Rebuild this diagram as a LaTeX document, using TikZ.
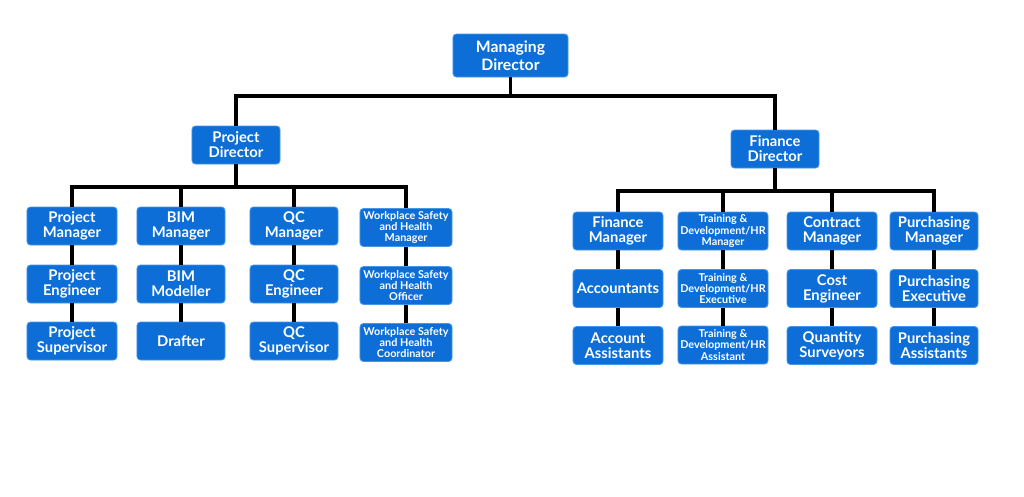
\documentclass[tikz,border=0pt]{standalone}
\usepackage{fontspec}
\setmainfont{Lato}[UprightFont=* Bold]
\usepackage{tikz}
\usetikzlibrary{positioning, calc}
\definecolor{boxblue}{RGB}{12,110,214}
\definecolor{edgeblue}{RGB}{70,150,236}

\begin{document}
\begin{tikzpicture}[x=0.025cm, y=-0.025cm,
  role/.style={fill=boxblue, draw=edgeblue, line width=0.6pt, rounded corners=2.5pt,
    text=white, align=center, font=\fontsize{10.5}{10.6}\selectfont,
    minimum width=2.25cm, minimum height=0.95cm, inner sep=1pt},
  small/.style={role, font=\fontsize{7.7}{7.9}\selectfont, minimum width=2.3cm},
  conn/.style={line width=2.8pt, black}]
  \useasboundingbox (0,0) rectangle (1024,496);
  % top level
  \node[role, minimum width=2.875cm, minimum height=1.075cm,
    font=\fontsize{11.2}{12.6}\selectfont] (md) at (510.5,55.5) {Managing\\Director};
  \node[role, minimum width=2.2cm] (pd) at (236,145) {Project\\Director};
  \node[role, minimum width=2.2cm] (fd) at (775,149) {Finance\\Director};
  % project side
  \node[role] (pm) at (72,226) {Project\\Manager};
  \node[role] (pe) at (72,284) {Project\\Engineer};
  \node[role] (ps) at (72,341) {Project\\Supervisor};
  \node[role, minimum width=2.2cm] (bm) at (181,226) {BIM\\Manager};
  \node[role, minimum width=2.2cm] (bmod) at (181,284) {BIM\\Modeller};
  \node[role, minimum width=2.2cm] (dr) at (181,341) {Drafter};
  \node[role, minimum width=2.2cm] (qcm) at (294,226) {QC\\Manager};
  \node[role, minimum width=2.2cm] (qce) at (294,284) {QC\\Engineer};
  \node[role, minimum width=2.2cm] (qcs) at (294,341) {QC\\Supervisor};
  \node[small] (wshm) at (406,227.5) {Workplace Safety\\and Health\\Manager};
  \node[small] (wsho) at (406,285.5) {Workplace Safety\\and Health\\Officer};
  \node[small] (wshc) at (406,342.5) {Workplace Safety\\and Health\\Coordinator};
  % finance side
  \node[role] (fm) at (618,231) {Finance\\Manager};
  \node[role] (acc) at (618,288.5) {Accountants};
  \node[role] (acca) at (618,345.5) {Account\\Assistants};
  \node[small, minimum width=2.25cm] (tdm) at (723,231) {Training \&\\Development/HR\\Manager};
  \node[small, minimum width=2.25cm] (tde) at (723,288.5) {Training \&\\Development/HR\\Executive};
  \node[small, minimum width=2.25cm] (tda) at (723,345) {Training \&\\Development/HR\\Assistant};
  \node[role] (cm) at (832,231) {Contract\\Manager};
  \node[role] (ce) at (832,288.5) {Cost\\Engineer};
  \node[role] (qs) at (832,345.5) {Quantity\\Surveyors};
  \node[role, minimum width=2.2cm] (pum) at (934,231) {Purchasing\\Manager};
  \node[role, minimum width=2.2cm] (pue) at (934,288.5) {Purchasing\\Executive};
  \node[role, minimum width=2.2cm] (pua) at (934,345.5) {Purchasing\\Assistants};
  % connectors
  \draw[conn] (md.south) -- ++(0,19) coordinate (mdj);
  \draw[conn] (pd.north) |- (mdj) -| (fd.north);
  \draw[conn] (pd.south) -- ++(0,23) coordinate (pdj);
  \draw[conn] (pm.north) |- (pdj) -| (wshm.north);
  \foreach \n in {bm, qcm} {
    \draw[conn] (\n.north) -- (\n.north |- pdj);
  }
  \draw[conn] (fd.south) -- ++(0,23) coordinate (fdj);
  \draw[conn] (fm.north) |- (fdj) -| (pum.north);
  \foreach \n in {tdm, cm} {
    \draw[conn] (\n.north) -- (\n.north |- fdj);
  }
  \foreach \a/\b/\c in {pm/pe/ps, bm/bmod/dr, qcm/qce/qcs, wshm/wsho/wshc,
      fm/acc/acca, tdm/tde/tda, cm/ce/qs, pum/pue/pua} {
    \draw[conn] (\a) -- (\b);
    \draw[conn] (\b) -- (\c);
  }
\end{tikzpicture}
\end{document}
